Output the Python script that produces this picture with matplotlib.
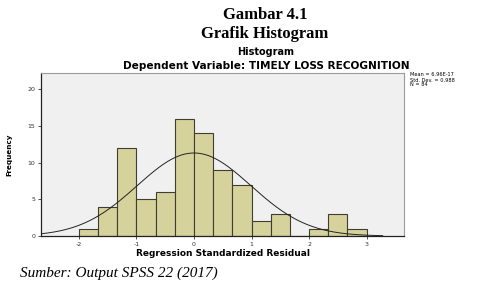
import numpy as np
import matplotlib
matplotlib.use("Agg")
import matplotlib.pyplot as plt

# Data
bin_edges = [-2.0 + i / 3 for i in range(16)]
counts = [1, 4, 12, 5, 6, 16, 14, 9, 7, 2, 3, 0, 1, 3, 1]
x_ticks = [-2, -1, 0, 1, 2, 3]
y_ticks = [0, 5, 10, 15, 20]
n_obs = 84
mean_val = 0.0
std_val = 0.988
stats_lines = ["Mean = 6.96E-17", "Std. Dev. = 0.988", "N = 84"]

fig = plt.figure(figsize=(4.87, 2.89), dpi=100)
ax = fig.add_axes([41 / 487, 1 - 236 / 289, (404 - 41) / 487, (236 - 73) / 289])
ax.set_facecolor("#f0f0f0")

lefts = bin_edges[:-1]
widths = [bin_edges[i + 1] - bin_edges[i] for i in range(len(counts))]
ax.bar(lefts, counts, width=widths, align="edge", color="#d6d29c",
       edgecolor="#3e3e32", linewidth=0.8, zorder=2)

xlim = (-2.66, 3.65)
xs = np.linspace(xlim[0], 3.28, 400)
bw = 1 / 3
ys = n_obs * bw / (std_val * np.sqrt(2 * np.pi)) * np.exp(-0.5 * ((xs - mean_val) / std_val) ** 2)
ax.plot(xs, ys, color="#222222", linewidth=0.7, zorder=3)

ax.set_xlim(*xlim)
ax.set_ylim(0, 22.2)
ax.set_xticks(x_ticks)
ax.set_xticklabels([str(v) for v in x_ticks])
ax.set_yticks(y_ticks)
ax.tick_params(axis="both", labelsize=4.5, length=2.5, width=0.6, pad=1.5, colors="#333333")
for side in ["top", "right"]:
    ax.spines[side].set_color("#9a9a9a")
    ax.spines[side].set_linewidth(0.8)
for side in ["left", "bottom"]:
    ax.spines[side].set_color("#222222")
    ax.spines[side].set_linewidth(0.9)

ax.set_xlabel("Regression Standardized Residual", fontsize=6.5, fontweight="bold",
              family="DejaVu Sans", labelpad=2)
ax.set_ylabel("Frequency", fontsize=5.2, fontweight="bold", family="DejaVu Sans", labelpad=11)

fig.text(265 / 487, 1 - 15 / 289, "Gambar 4.1", ha="center", va="center",
         fontsize=12, fontweight="bold", family="Liberation Serif")
fig.text(265 / 487, 1 - 34 / 289, "Grafik Histogram", ha="center", va="center",
         fontsize=12, fontweight="bold", family="Liberation Serif")
fig.text(266 / 487, 1 - 52 / 289, "Histogram", ha="center", va="center",
         fontsize=7, fontweight="bold", family="DejaVu Sans")
fig.text(266 / 487, 1 - 66 / 289, "Dependent Variable: TIMELY LOSS RECOGNITION",
         ha="center", va="center", fontsize=7.6, fontweight="bold", family="DejaVu Sans")

fig.text(410 / 487, 1 - 80 / 289, "\n".join(stats_lines), ha="left", va="center",
         fontsize=3.6, family="DejaVu Sans", linespacing=1.0)

fig.text(20 / 487, 1 - 273 / 289, "Sumber: Output SPSS 22 (2017)", ha="left", va="center",
         fontsize=11, style="italic", family="Liberation Serif")

fig.savefig("out.png", dpi=100)
